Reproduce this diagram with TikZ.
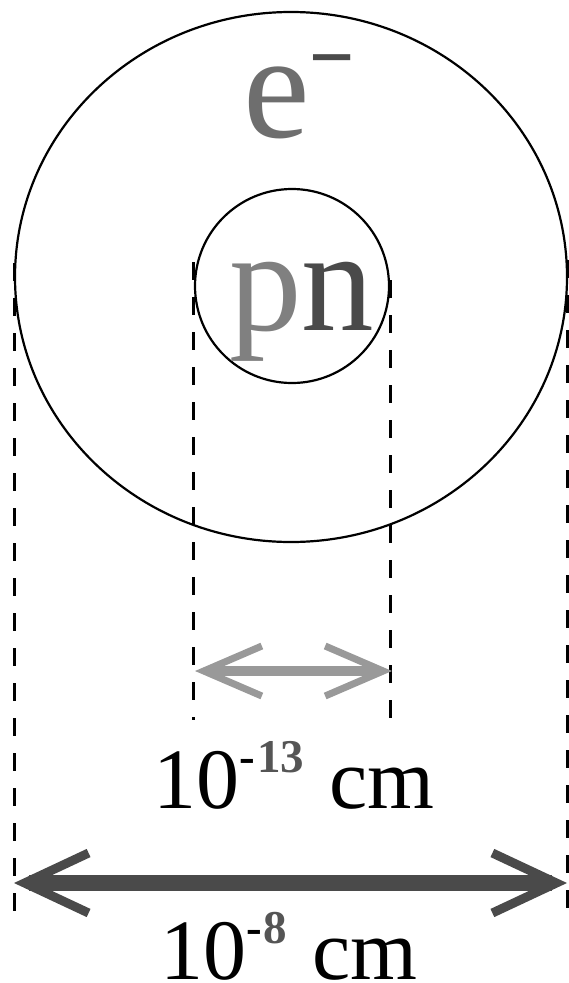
\documentclass[tikz,border=0pt]{standalone}
\usepackage{fontspec}
\setmainfont{Liberation Serif}
\usetikzlibrary{arrows.meta}
\definecolor{egray}{HTML}{6E6E6E}
\definecolor{pgray}{HTML}{808080}
\definecolor{dkgray}{HTML}{4A4A4A}
\definecolor{lgray}{HTML}{999999}
\definecolor{sgray}{HTML}{555555}
\tikzset{
  ring/.style={draw=black, line width=2.2pt},
  dashline/.style={draw=black, line width=3pt, dash pattern=on 18pt off 17pt},
  smallarrow/.style={draw=lgray, line width=10pt, {Straight Barb[sharp,line width=7pt,length=58pt,width=50pt]}-{Straight Barb[sharp,line width=7pt,length=58pt,width=50pt]}},
  bigarrow/.style={draw=dkgray, line width=16pt, {Straight Barb[sharp,line width=9pt,length=64pt,width=60pt]}-{Straight Barb[sharp,line width=9pt,length=64pt,width=60pt]}},
  lbl/.style={inner sep=0pt, outer sep=0pt, anchor=base west}
}
\begin{document}
\begin{tikzpicture}[x=1pt, y=-1pt]
\useasboundingbox (0,0) rectangle (568,983);
% rings
\coordinate (bigc) at (291,277);
\coordinate (smallc) at (292,286);
\draw[ring] (bigc) ellipse [x radius=276, y radius=265];
\draw[ring] (smallc) circle [radius=97];
% dashed guide lines
\coordinate (ot1) at (14,263);  \coordinate (ob1) at (14,925);
\coordinate (ot2) at (567,260); \coordinate (ob2) at (567,912);
\coordinate (it1) at (193,262); \coordinate (ib1) at (193,720);
\coordinate (it2) at (390,280); \coordinate (ib2) at (390,720);
\draw[dashline] (ot1) -- (ob1);
\draw[dashline] (ot2) -- (ob2);
\draw[dashline] (it1) -- (ib1);
\draw[dashline] (it2) -- (ib2);
% arrows
\coordinate (gL) at (195,671); \coordinate (gR) at (392,671);
\draw[smallarrow] (gL) -- (gR);
\coordinate (dL) at (14,883); \coordinate (dR) at (567,883);
\draw[bigarrow] (dL) -- (dR);
% labels
\node[lbl] (elec) at (243,137) {\fontsize{150}{150}\selectfont\color{egray}e\color{dkgray}\raisebox{40pt}{\fontsize{80}{80}\selectfont\scalebox{1}[1.5]{−}}};
\node[lbl] (nuc) at (229,330) {\fontsize{145}{145}\selectfont{\color{pgray}p}{\color{dkgray}n}};
\node[lbl] (small) at (153.5,808) {\fontsize{86}{86}\selectfont 10\raisebox{36pt}{\fontsize{47}{47}\selectfont\bfseries -\kern2pt\color{sgray}13}\hspace{4pt} cm};
\node[lbl] (big) at (160.5,979) {\fontsize{86}{86}\selectfont 10\raisebox{36pt}{\fontsize{47}{47}\selectfont\bfseries -\kern1pt\color{sgray}8}\hspace{4pt} cm};
\end{tikzpicture}
\end{document}
